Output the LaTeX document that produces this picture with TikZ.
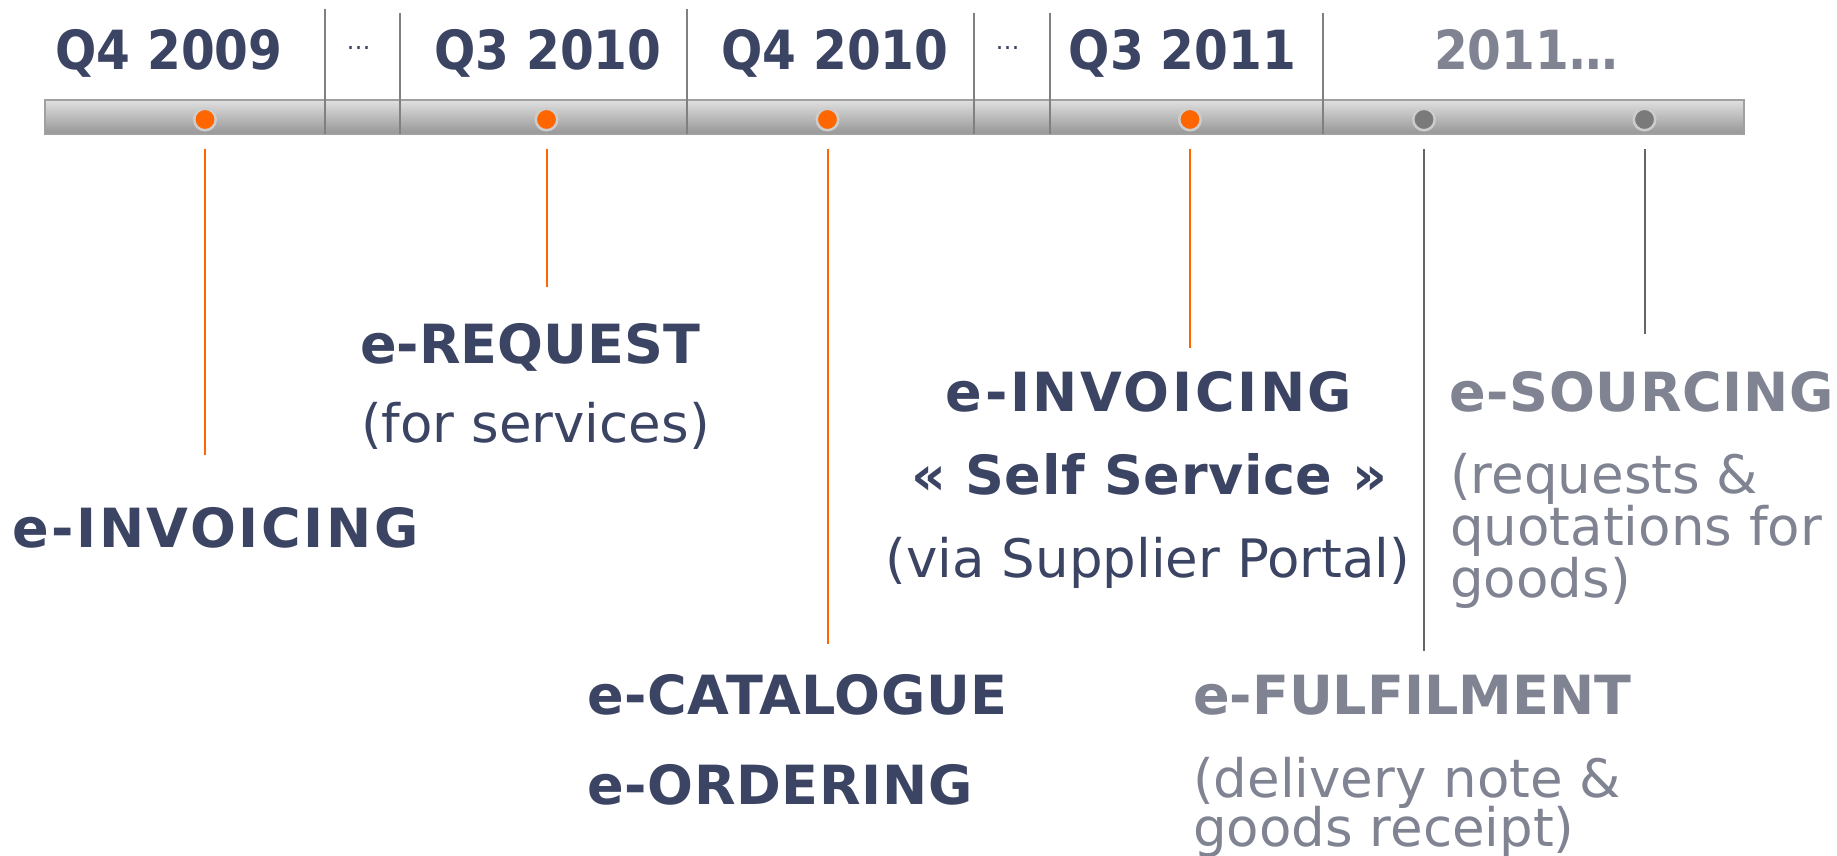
\documentclass[tikz,border=0pt]{standalone}
\usepackage{fontspec}
\setmainfont{DejaVu Sans}
\newfontfamily\hdrfont{DejaVu Sans Condensed}
\newfontfamily\boldbody{DejaVu Sans}[LetterSpace=1.2]
\newfontfamily\invfont{DejaVu Sans}[LetterSpace=4.8]
\definecolor{navy}{RGB}{59,68,99}
\definecolor{greytext}{RGB}{128,131,145}
\definecolor{orangeline}{RGB}{255,102,0}
\definecolor{sepgrey}{RGB}{128,128,128}
\definecolor{ringgrey}{RGB}{205,205,205}
\definecolor{dotgrey}{RGB}{122,122,122}
\definecolor{linegrey}{RGB}{102,102,102}
\definecolor{bartop}{RGB}{224,224,224}
\definecolor{barbot}{RGB}{150,150,150}
\definecolor{barborder}{RGB}{160,160,160}
\begin{document}
\begin{tikzpicture}[x=1pt,y=-1pt,
  hdr/.style={font=\hdrfont\bfseries\fontsize{54}{60}\selectfont, text=navy, inner sep=0, anchor=base},
  ellip/.style={font=\fontsize{24}{28}\selectfont, text=navy, inner sep=0, anchor=base},
  ttl/.style={font=\boldbody\bfseries\fontsize{54}{60}\selectfont, text=navy, inner sep=0, anchor=base west},
  plainttl/.style={ttl, font=\bfseries\fontsize{54}{60}\selectfont},
  invttl/.style={ttl, font=\invfont\bfseries\fontsize{54}{60}\selectfont},
  sub/.style={font=\fontsize{53}{60}\selectfont, text=navy, inner sep=0, anchor=base west},
  sepline/.style={draw=sepgrey, line width=2pt},
  odot/.style={circle, inner sep=0, minimum size=21.5pt, fill=orangeline, draw=ringgrey, line width=2.5pt},
  gdot/.style={circle, inner sep=0, minimum size=21.5pt, fill=dotgrey, draw=ringgrey, line width=2.5pt},
  oline/.style={draw=orangeline, line width=2.5pt},
  gline/.style={draw=linegrey, line width=2.5pt}
]
\useasboundingbox (0,0) rectangle (1837,856);
% bar
\path[draw=barborder, line width=2pt, top color=bartop, bottom color=barbot] (44.5,100) rectangle (1743.5,134);
% separators
\draw[sepline] (324.5,9) -- (324.5,134);
\draw[sepline] (399.5,13) -- (399.5,134);
\draw[sepline] (686.6,9) -- (686.6,134);
\draw[sepline] (973.6,13) -- (973.6,134);
\draw[sepline] (1049.8,13) -- (1049.8,134);
\draw[sepline] (1322.6,13) -- (1322.6,134);
% headers
\node[hdr] (h1) at (169,70) {Q4 2009};
\node[ellip] (e1) at (358.5,50) {…};
\node[hdr] (h2) at (548,70) {Q3 2010};
\node[hdr] (h3) at (835,70) {Q4 2010};
\node[ellip] (e2) at (1007.6,50) {…};
\node[hdr] (h4) at (1182.5,70) {Q3 2011};
\node[hdr, text=greytext] (h5) at (1526,70) {2011…};
% dots
\node[odot] (d1) at (205,119.5) {};
\node[odot] (d2) at (546.5,119.5) {};
\node[odot] (d3) at (827.5,119.5) {};
\node[odot] (d4) at (1190,119.5) {};
\node[gdot] (d5) at (1424,119.5) {};
\node[gdot] (d6) at (1644.5,119.5) {};
% connector ends
\coordinate (s1) at (205,149);   \coordinate (t1) at (205,455);
\coordinate (s2) at (547,149);   \coordinate (t2) at (547,287);
\coordinate (s3) at (828,149);   \coordinate (t3) at (828,644);
\coordinate (s4) at (1190,149);  \coordinate (t4) at (1190,348);
\coordinate (s5) at (1424,149);  \coordinate (t5) at (1424,651);
\coordinate (s6) at (1645,149);  \coordinate (t6) at (1645,334);
\draw[oline] (s1) -- (t1);
\draw[oline] (s2) -- (t2);
\draw[oline] (s3) -- (t3);
\draw[oline] (s4) -- (t4);
\draw[gline] (s5) -- (t5);
\draw[gline] (s6) -- (t6);
% texts
\node[invttl] (inv1) at (12,547) {e-INVOICING};
\node[plainttl] (req) at (360,363) {e-REQUEST};
\node[sub] (req2) at (361,442) {(for services)};
\node[invttl, anchor=base] (inv2) at (1149,411) {e-INVOICING};
\node[ttl, anchor=base] (inv2b) at (1149,494) {« Self Service »};
\node[sub, anchor=base] (inv2c) at (1148,577) {(via Supplier Portal)};
\node[ttl, text=greytext] (src) at (1449,411) {e-SOURCING};
\node[sub, text=greytext] (src2) at (1450,493) {(requests \&};
\node[sub, text=greytext] (src3) at (1450,545) {quotations for};
\node[sub, text=greytext] (src4) at (1450,597) {goods)};
\node[ttl] (cat) at (587,714) {e-CATALOGUE};
\node[ttl] (ord) at (587,804) {e-ORDERING};
\node[plainttl, text=greytext] (ful) at (1193,714) {e-FULFILMENT};
\node[sub, text=greytext] (ful2) at (1193,797) {(delivery note \&};
\node[sub, text=greytext] (ful3) at (1193,846) {goods receipt)};
\end{tikzpicture}
\end{document}
